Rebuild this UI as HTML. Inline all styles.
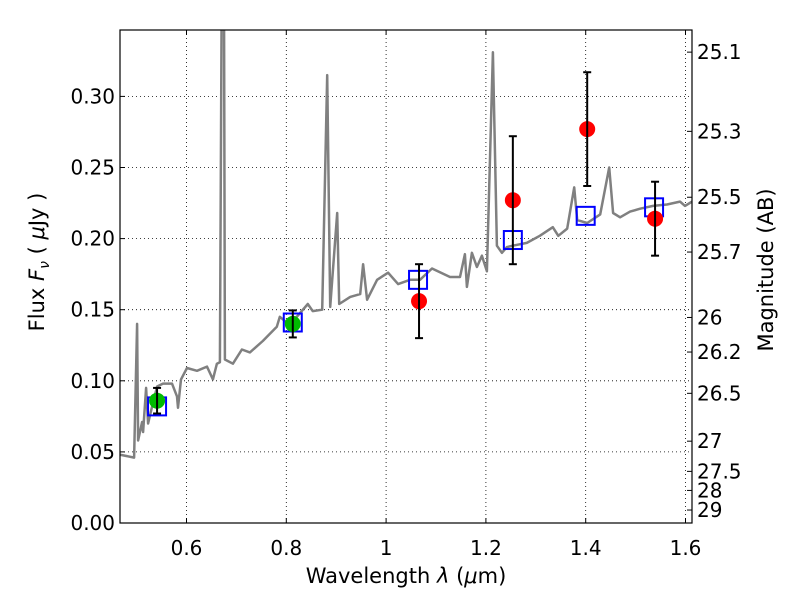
<!DOCTYPE html>
<html><head><meta charset="utf-8"><style>
body{margin:0;background:#fff}
svg{display:block;font-family:"DejaVu Sans","Liberation Sans",sans-serif}
</style></head><body>
<svg id="c" width="800" height="600" viewBox="0 0 800 600"></svg>
<script>
const specWave=[0.467,0.495,0.501,0.503,0.511,0.513,0.519,0.523,0.531,0.541,0.553,0.571,0.581,0.583,0.589,0.601,0.621,0.641,0.653,0.661,0.667,0.671,0.675,0.677,0.693,0.711,0.727,0.753,0.781,0.787,0.801,0.821,0.843,0.853,0.872,0.882,0.888,0.902,0.906,0.928,0.948,0.954,0.962,0.982,1.004,1.024,1.048,1.068,1.092,1.128,1.148,1.158,1.162,1.172,1.182,1.192,1.202,1.214,1.222,1.232,1.242,1.254,1.282,1.308,1.334,1.345,1.363,1.377,1.383,1.403,1.429,1.447,1.455,1.469,1.489,1.509,1.535,1.563,1.589,1.599,1.613];
const specFlux=[0.048,0.046,0.140,0.058,0.071,0.064,0.095,0.070,0.082,0.096,0.098,0.098,0.089,0.081,0.101,0.109,0.107,0.110,0.101,0.112,0.113,0.40,0.40,0.115,0.112,0.122,0.120,0.128,0.138,0.145,0.141,0.145,0.154,0.149,0.150,0.315,0.152,0.218,0.154,0.159,0.161,0.182,0.157,0.171,0.176,0.168,0.171,0.171,0.179,0.173,0.173,0.189,0.166,0.190,0.180,0.188,0.177,0.331,0.195,0.190,0.194,0.195,0.197,0.202,0.208,0.202,0.207,0.236,0.213,0.211,0.217,0.250,0.218,0.215,0.219,0.221,0.223,0.224,0.226,0.223,0.226];
const redWave=[1.066,1.254,1.403,1.539];
const redFlux=[0.156,0.227,0.277,0.214];
const redErr=[0.026,0.045,0.040,0.026];
const greenWave=[0.541,0.813];
const greenFlux=[0.086,0.140];
const greenErr=[0.009,0.0095];
const blueWave=[0.541,0.813,1.064,1.254,1.400,1.537];
const blueFlux=[0.082,0.141,0.171,0.199,0.216,0.222];
const xTicks=[0.6,0.8,1.0,1.2,1.4,1.6];
const xTickLabels=["0.6","0.8","1","1.2","1.4","1.6"];
const yTicks=[0,0.05,0.10,0.15,0.20,0.25,0.30];
const yTickLabels=["0.00","0.05","0.10","0.15","0.20","0.25","0.30"];
const magTicks=[25.1,25.3,25.5,25.7,26,26.2,26.5,27,27.5,28,29];
const magLabels=["25.1","25.3","25.5","25.7","26","26.2","26.5","27","27.5","28","29"];

const L=120,R=692,T=30,B=523;
const NS="http://www.w3.org/2000/svg";
const svg=document.getElementById('c');
function X(w){return 436+(w-1.1)*499;}
function Y(f){return 523-f*1422;}
function magY(m){return Y(Math.pow(10,(23.9-m)/2.5));}
function el(tag,attrs,parent){const e=document.createElementNS(NS,tag);for(const k in attrs)e.setAttribute(k,attrs[k]);(parent||svg).appendChild(e);return e;}

const clip=el('clipPath',{id:'cp'});el('rect',{x:L,y:T,width:R-L,height:B-T},clip);

const grid=el('g',{});


xTicks.forEach(t=>{el('line',{x1:X(t),x2:X(t),y1:T,y2:B,stroke:'#000','stroke-width':0.8,'stroke-dasharray':'1,3'},grid);});
yTicks.forEach(t=>{if(t>0)el('line',{x1:L,x2:R,y1:Y(t),y2:Y(t),stroke:'#000','stroke-width':0.8,'stroke-dasharray':'1,3'},grid);});

let d='';specWave.forEach((w,i)=>{d+=(i?'L':'M')+X(w).toFixed(1)+','+Y(specFlux[i]).toFixed(1);});
const sp=el('path',{d:d,fill:'none',stroke:'#808080','stroke-width':2.5,'stroke-linejoin':'round','clip-path':'url(#cp)'});



blueWave.forEach((w,i)=>{
  const r=el('rect',{x:X(w)-9,y:Y(blueFlux[i])-9,width:18,height:18,fill:'none',stroke:'#0000ff','stroke-width':2});
  
  
});
function errbar(w,f,e,name){
  const g=el('g',{stroke:'#000','stroke-width':2});
  
  
  const x=X(w);
  el('line',{x1:x,x2:x,y1:Y(f+e),y2:Y(f-e)},g);
  el('line',{x1:x-4,x2:x+4,y1:Y(f+e),y2:Y(f+e)},g);
  el('line',{x1:x-4,x2:x+4,y1:Y(f-e),y2:Y(f-e)},g);
}
greenWave.forEach((w,i)=>{
  const c=el('circle',{cx:X(w),cy:Y(greenFlux[i]),r:8,fill:'#00bb00'});
  
  
  errbar(w,greenFlux[i],greenErr[i],'green-error-bar');
});
redWave.forEach((w,i)=>{
  const c=el('circle',{cx:X(w),cy:Y(redFlux[i]),r:8,fill:'#ff0000'});
  
  
  errbar(w,redFlux[i],redErr[i],'red-error-bar');
});

const fr=el('rect',{x:L,y:T,width:R-L,height:B-T,fill:'none',stroke:'#000','stroke-width':1.2});



xTicks.forEach((t,i)=>{
  el('line',{x1:X(t),x2:X(t),y1:B,y2:B-5,stroke:'#000'});
  el('line',{x1:X(t),x2:X(t),y1:T,y2:T+5,stroke:'#000'});
  const tx=el('text',{x:X(t),y:B+32,'font-size':20,'text-anchor':'middle'});
  tx.textContent=xTickLabels[i];
  
  
});
yTicks.forEach((t,i)=>{
  el('line',{x1:L,x2:L+5,y1:Y(t),y2:Y(t),stroke:'#000'});
  const tx=el('text',{x:L-5,y:Y(t)+7,'font-size':20,'text-anchor':'end'});
  tx.textContent=yTickLabels[i];
  
  
});
magTicks.forEach((m,i)=>{
  const y=magY(m);
  el('line',{x1:R,x2:R-5,y1:y,y2:y,stroke:'#000'});
  const tx=el('text',{x:R+5,y:y+7,'font-size':20});
  tx.textContent=magLabels[i];
  
  
});

const xt=el('text',{x:406,y:583,'font-size':21,'text-anchor':'middle'});
xt.innerHTML='Wavelength  <tspan font-style="italic">λ</tspan> (<tspan font-style="italic">μ</tspan>m)';


const yt=el('text',{x:0,y:0,'font-size':21,'text-anchor':'middle',transform:'translate(44,262) rotate(-90)'});
yt.innerHTML='Flux  <tspan font-style="italic">F</tspan><tspan font-size="14" dy="5" font-style="italic">ν</tspan><tspan dy="-5">  (  </tspan><tspan font-style="italic">μ</tspan>Jy )';


const rt=el('text',{x:0,y:0,'font-size':21,'text-anchor':'middle',transform:'translate(773,270) rotate(-90)'});
rt.textContent='Magnitude (AB)';


</script>
</body></html>
